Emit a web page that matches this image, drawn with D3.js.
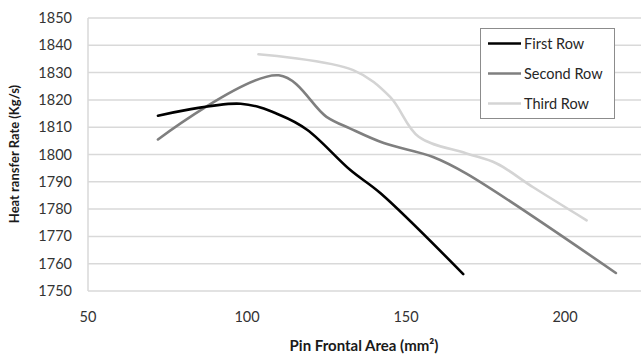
<!DOCTYPE html>
<html>
<head>
<meta charset="utf-8">
<script src="https://cdn.jsdelivr.net/npm/d3@7"></script>
<style>
  body { margin: 0; background: #fff; }
  svg { display: block; }
</style>
</head>
<body>
<figure id="chart" style="margin:0"></figure>
<script>
// values
const firstX  = [72, 98, 110.5, 119, 132.5, 142, 168];
const firstY  = [1814.2, 1818.6, 1814.4, 1809, 1794.3, 1785.8, 1756.2];
const secondX = [72, 110, 125, 132.5, 143, 158.5, 169, 216];
const secondY = [1805.5, 1829, 1813.8, 1809.5, 1804.2, 1799.1, 1793, 1756.6];
const thirdX  = [103.6, 133.4, 145, 154, 169, 178.5, 190, 206.8];
const thirdY  = [1836.7, 1830.9, 1821.1, 1806.5, 1800.4, 1796.7, 1788, 1775.9];
const seriesNames = ["First Row", "Second Row", "Third Row"];
const xTicks = [50, 100, 150, 200];
const yTicks = [1750, 1760, 1770, 1780, 1790, 1800, 1810, 1820, 1830, 1840, 1850];

const width = 641, height = 358;
const plotLeft = 88, plotTop = 18, plotBottom = 291, plotRight = 641;
const colors = ["#000000", "#7f7f7f", "#d4d4d4"];

const svg = d3.select("figure#chart")
  .append("svg")
  .attr("width", width)
  .attr("height", height);

const x = d3.scaleLinear()
  .domain([50, 225])
  .range([plotLeft, plotLeft + 175 * 3.18]);

const y = d3.scaleLinear()
  .domain([1750, 1850])
  .range([plotBottom, plotTop]);

// horizontal gridlines
svg.append("g")
  .selectAll("line")
  .data(yTicks)
  .enter()
  .append("line")
    .attr("x1", plotLeft)
    .attr("x2", plotRight)
    .attr("y1", d => y(d))
    .attr("y2", d => y(d))
    .attr("stroke", "#d9d9d9")
    .attr("stroke-width", 1.5);

// left axis line
svg.append("line")
  .attr("x1", plotLeft).attr("x2", plotLeft)
  .attr("y1", plotTop).attr("y2", plotBottom)
  .attr("stroke", "#d9d9d9")
  .attr("stroke-width", 1.5);

// y tick labels
svg.append("g")
  .selectAll("text")
  .data(yTicks)
  .enter()
  .append("text")
    .attr("x", 72)
    .attr("y", d => y(d))
    .attr("dy", "0.35em")
    .attr("text-anchor", "end")
    .style("font", "14.5px Lato")
    .style("fill", "#333")
    .text(d => d);

// x tick labels
svg.append("g")
  .selectAll("text")
  .data(xTicks)
  .enter()
  .append("text")
    .attr("x", d => x(d))
    .attr("y", 317)
    .attr("dy", "0.35em")
    .attr("text-anchor", "middle")
    .style("font", "14.5px Lato")
    .style("fill", "#333")
    .text(d => d);

// lines
const series = [
  { name: seriesNames[0], xs: firstX, ys: firstY },
  { name: seriesNames[1], xs: secondX, ys: secondY },
  { name: seriesNames[2], xs: thirdX, ys: thirdY }
];

const line = d3.line()
  .x(d => x(d[0]))
  .y(d => y(d[1]))
  .curve(d3.curveCatmullRom.alpha(0.5));

series.slice().reverse().forEach((s) => {
  const i = series.indexOf(s);
  svg.append("path")
    .datum(s.xs.map((v, k) => [v, s.ys[k]]))
    .attr("d", line)
    .attr("fill", "none")
    .attr("stroke", colors[i])
    .attr("stroke-width", 2.6)
    .attr("stroke-linecap", "round");
});

// legend
const legend = svg.append("g");
legend.append("rect")
  .attr("x", 480.5).attr("y", 28.5)
  .attr("width", 134).attr("height", 90)
  .attr("fill", "#fff")
  .attr("stroke", "#8c8c8c")
  .attr("stroke-width", 1);

seriesNames.forEach((name, i) => {
  const ly = 43.5 + i * 30;
  legend.append("line")
    .attr("x1", 488).attr("x2", 521)
    .attr("y1", ly).attr("y2", ly)
    .attr("stroke", colors[i])
    .attr("stroke-width", 2.6);
  legend.append("text")
    .attr("x", 524)
    .attr("y", ly)
    .attr("dy", "0.35em")
    .style("font", "14.5px Lato")
    .style("fill", "#262626")
    .text(name);
});

// axis titles
svg.append("text")
  .attr("x", 364)
  .attr("y", 351)
  .attr("text-anchor", "middle")
  .style("font", "bold 15px Lato")
  .style("fill", "#1a1a1a")
  .text("Pin Frontal Area (mm²)");

svg.append("text")
  .attr("text-anchor", "middle")
  .attr("transform", "translate(19,154)rotate(-90)")
  .style("font", "bold 13px Lato")
  .style("fill", "#1a1a1a")
  .text("Heat ransfer Rate (Kg/s)");
</script>
</body>
</html>
